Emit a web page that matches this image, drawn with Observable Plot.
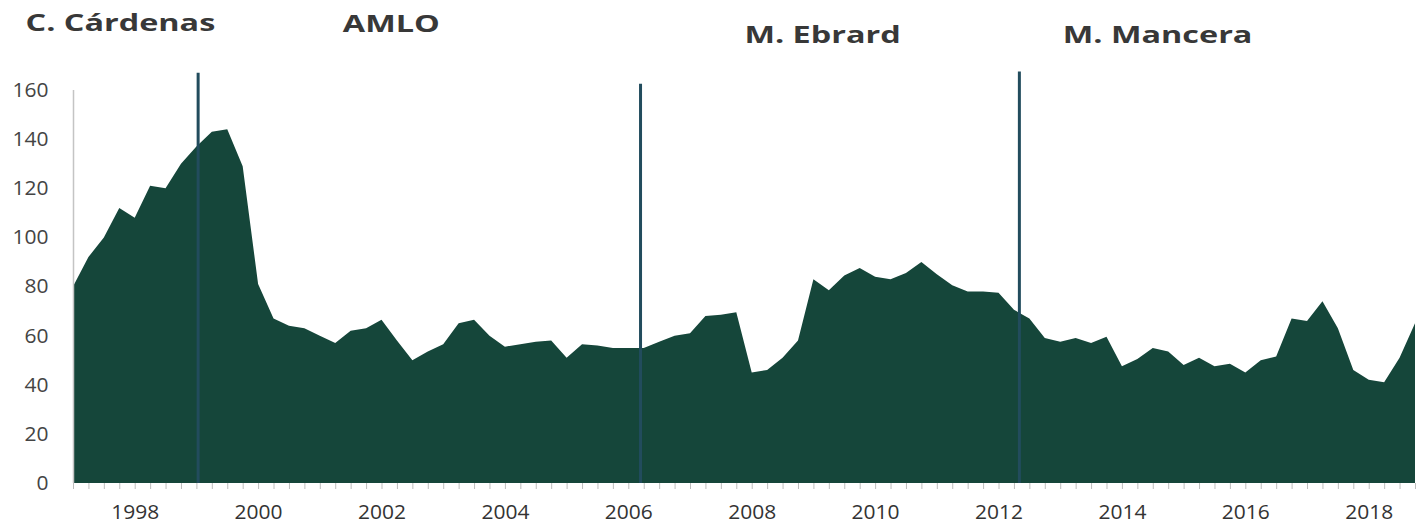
<!DOCTYPE html>
<html>
<head>
<meta charset="utf-8">
<script src="https://cdn.jsdelivr.net/npm/d3@7"></script>
<script src="https://cdn.jsdelivr.net/npm/@observablehq/plot@0.6"></script>
<style>
  body { margin: 0; background: #fff; }
  #chart svg { display: block; }
</style>
</head>
<body>
<div id="chart"></div>
<script>
// Quarterly series, 1997 Q1 – 2018 Q4
const startYear = 1997;
const values = [
  80, 92, 100, 112, 108, 121, 120, 130, 137, 143, 144, 129,
  81, 67, 64, 63, 60, 57, 62, 63, 66.5, 58, 50, 53.5,
  56.5, 65, 66.5, 60, 55.5, 56.5, 57.5, 58, 51, 56.5, 56, 55,
  55, 55, 57.5, 60, 61, 68, 68.5, 69.5, 45, 46, 51, 58,
  83, 78.5, 84.5, 87.5, 84, 83, 85.5, 90, 85, 80.5, 78, 78,
  77.5, 70.5, 67, 59, 57.5, 59, 57, 59.5, 47.5, 50.5, 55, 53.5,
  48, 51, 47.5, 48.5, 45, 50, 51.5, 67, 66, 74, 63, 46,
  42, 41, 51, 65
];

// Heads of government (label text, label anchor year, label level)
const leaders = ["C. Cárdenas", "AMLO", "M. Ebrard", "M. Mancera"];
const leaderYear = [1997.76, 2002.15, 2009.14, 2014.57];
const leaderLevel = [187.5, 187, 182.5, 182.5];

// Changes of government (date, top of the marker in value units)
const changeDates = [1999.02, 2006.19, 2012.33];
const changeTop = [167, 162.5, 167.5];

// Axis ticks
const yearTicks = [1998, 2000, 2002, 2004, 2006, 2008, 2010, 2012, 2014, 2016, 2018];
const yTicks = [0, 20, 40, 60, 80, 100, 120, 140, 160];

const data = values.map((v, i) => ({date: startYear + i / 4, value: v}));
const quarters = data.map(d => d.date);
const changes = changeDates.map((d, i) => ({date: d, top: changeTop[i]}));
const labels = leaders.map((name, i) => ({name, x: leaderYear[i], y: leaderLevel[i]}));

const plot = Plot.plot({
  width: 1424,
  height: 525,
  marginLeft: 73,
  marginRight: 9,
  marginTop: 90,
  marginBottom: 42,
  style: {
    fontFamily: "'Open Sans', sans-serif",
    fontSize: "20px",
    color: "#444",
    background: "#fff",
    overflow: "visible"
  },
  x: {domain: [startYear, quarters[quarters.length - 1]]},
  y: {domain: [0, 160]},
  marks: [
    Plot.areaY(data, {x: "date", y: "value", fill: "#15463a"}),
    Plot.ruleX([startYear], {y1: 0, y2: 160, stroke: "#c4c4c4", strokeWidth: 1.5}),
    Plot.ruleX(changes, {x: "date", y1: 0, y2: "top", stroke: "#224c5d", strokeWidth: 3}),
    Plot.axisY({ticks: yTicks, tickSize: 0, tickPadding: 25, fill: "#444", fontSize: 20}),
    Plot.axisX({ticks: quarters, tickSize: 6, tickFormat: () => "", stroke: "#bdbdbd"}),
    Plot.axisX({ticks: yearTicks, tickSize: 0, tickPadding: 21, tickFormat: "d", fill: "#333", fontSize: 20}),
    Plot.text(labels, {
      x: "x", y: "y", text: "name",
      fontWeight: "bold", fontSize: 24, fill: "#383838"
    })
  ]
});

document.getElementById("chart").append(plot);

// Widen glyphs horizontally about each label's anchor point
function widen(t, k) {
  const tr = t.getAttribute("transform");
  if (tr) {
    t.setAttribute("transform", tr + ` scale(${k},1)`);
  } else {
    const x = +t.getAttribute("x") || 0;
    t.setAttribute("x", x / k);
    t.setAttribute("transform", `scale(${k},1)`);
  }
}
plot.querySelectorAll("text").forEach(t => {
  const s = t.textContent.trim();
  if (leaders.includes(s)) widen(t, 1.35);
  else if (/^\d+$/.test(s)) widen(t, 1.05);
});
</script>
</body>
</html>
